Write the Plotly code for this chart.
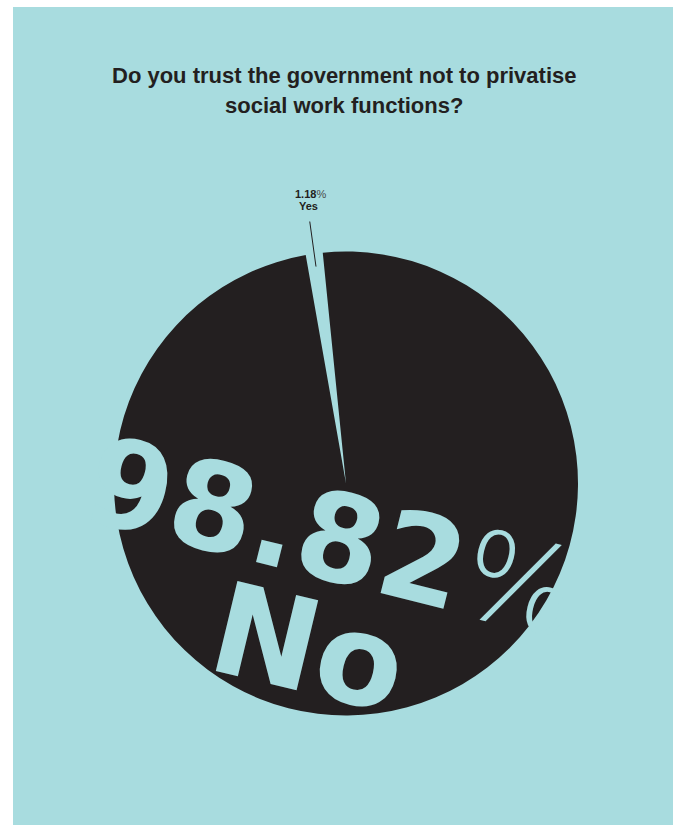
import math
import plotly.graph_objects as go

# ---- data ----
title_lines = ["Do you trust the government not to privatise", "social work functions?"]
labels = ["Yes", "No"]
values = [1.18, 98.82]

# ---- style ----
TEAL = "#a8dcdf"
DARK = "#231f20"
W, H = 676, 825


def px(x):
    return x / W


def py(y):
    return 1 - y / H


cx, cy, r = 346, 483.5, 232
rotation = -10.0

fig = go.Figure(
    go.Pie(
        labels=labels,
        values=values,
        sort=False,
        direction="clockwise",
        rotation=rotation,
        marker=dict(colors=[TEAL, DARK], line=dict(width=0)),
        textinfo="none",
        hoverinfo="label+percent",
        domain=dict(x=[px(cx - r), px(cx + r)], y=[py(cy + r), py(cy - r)]),
        showlegend=False,
    )
)

total = sum(values)
mid = math.radians(rotation + values[0] / total * 360 / 2)
head = (cx + 219 * math.sin(mid), cy - 219 * math.cos(mid))
tail = (cx + 266 * math.sin(mid), cy - 266 * math.cos(mid))

annotations = []
# title
for i, line in enumerate(title_lines):
    annotations.append(dict(
        text=f"<b>{line}</b>", x=px(343.5), y=py(75.5 + 30 * i), xref="paper", yref="paper",
        showarrow=False, xanchor="center", yanchor="middle",
        font=dict(family="Liberation Sans, Arial, sans-serif", size=22, color=DARK),
    ))

# small label for Yes
annotations.append(dict(
    text=f"<b>{values[0]:.2f}</b><span style='color:#4a4a4a'>%</span>",
    x=px(310.5), y=py(194.2), xref="paper", yref="paper", showarrow=False,
    xanchor="center", yanchor="middle",
    font=dict(family="Liberation Sans, Arial, sans-serif", size=11, color=DARK),
))
annotations.append(dict(
    text=f"<b>{labels[0]}</b>",
    x=px(308), y=py(206.2), xref="paper", yref="paper", showarrow=False,
    xanchor="center", yanchor="middle",
    font=dict(family="Liberation Sans, Arial, sans-serif", size=11, color=DARK),
))
# leader line
annotations.append(dict(
    text="", x=px(head[0]), y=py(head[1]), xref="paper", yref="paper",
    showarrow=True, arrowhead=0, arrowwidth=1, arrowcolor=DARK,
    ax=tail[0] - head[0], ay=tail[1] - head[1],
))

# big No value
annotations.append(dict(
    text=f"<b>{values[1]:.2f}</b><span style='font-weight:200'>%</span>",
    x=px(333), y=py(538), xref="paper", yref="paper", showarrow=False,
    xanchor="center", yanchor="middle", textangle=14,
    font=dict(family="DejaVu Sans", size=122, color=TEAL),
))
annotations.append(dict(
    text=f"<b>{labels[1]}</b>",
    x=px(309), y=py(648), xref="paper", yref="paper", showarrow=False,
    xanchor="center", yanchor="middle", textangle=13.5,
    font=dict(family="DejaVu Sans", size=127, color=TEAL),
))

fig.update_layout(
    width=W, height=H,
    margin=dict(l=0, r=0, t=0, b=0),
    paper_bgcolor="white",
    plot_bgcolor="white",
    shapes=[dict(type="rect", xref="paper", yref="paper", x0=px(13), x1=px(673), y0=0, y1=py(7),
                 fillcolor=TEAL, line=dict(width=0), layer="below")],
    annotations=annotations,
)

fig.write_html(
    "out.html",
    config={"displayModeBar": False},
    post_script="document.body.style.margin='0';document.body.style.overflow='hidden';",
)
